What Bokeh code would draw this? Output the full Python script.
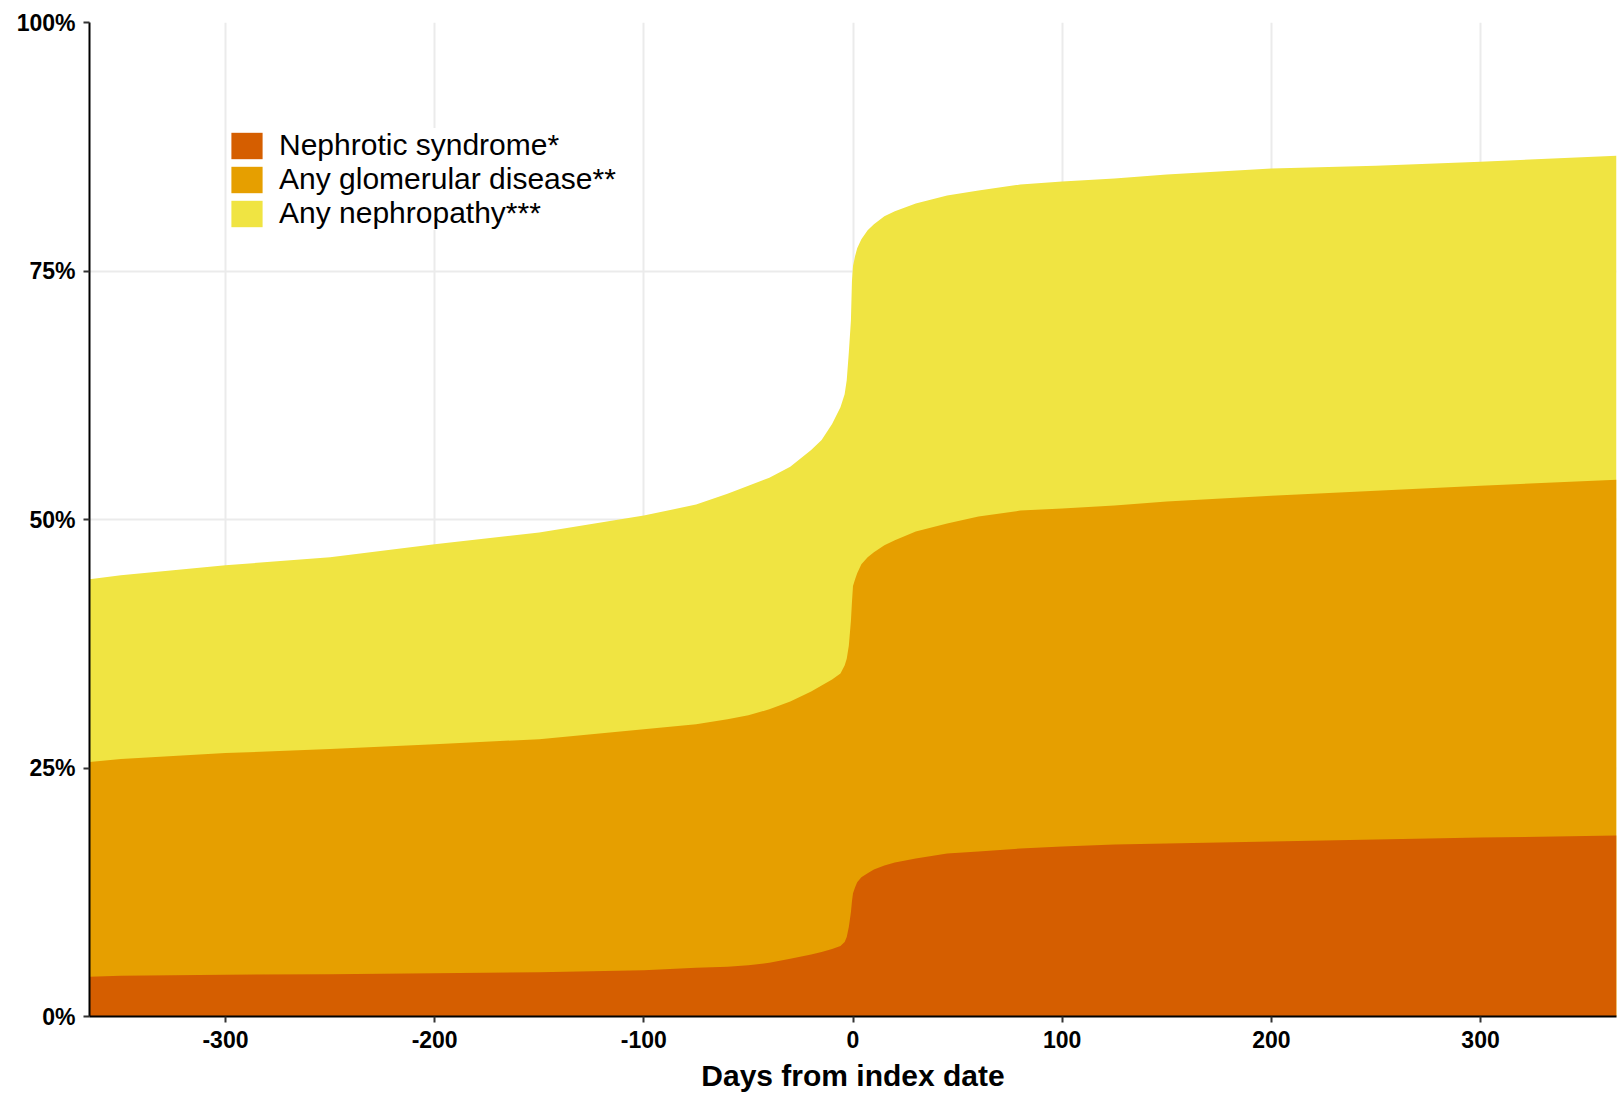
from bokeh.plotting import figure
from bokeh.models import Legend, LegendItem, FixedTicker
from bokeh.embed import file_html
from bokeh.resources import INLINE

# ---- data (cumulative percentage of patients) ----
days = [-365, -350, -300, -250, -200, -150, -100, -75, -60, -50, -40, -30, -20, -15, -10,
        -6, -4, -3, -2, -1, -0.5, 0, 1, 2, 4, 7, 10, 15, 20, 30, 45, 60, 80, 100, 125,
        150, 200, 250, 300, 365]

nephropathy = [44.0, 44.4, 45.4, 46.2, 47.5, 48.7, 50.4, 51.5, 52.6, 53.4, 54.2, 55.3, 57.0, 58.0, 59.6,
               61.3, 62.6, 64.0, 66.8, 70.0, 74.0, 75.5, 76.5, 77.3, 78.2, 79.1, 79.7, 80.5, 81.0, 81.8,
               82.6, 83.1, 83.7, 84.0, 84.3, 84.7, 85.3, 85.6, 86.0, 86.6]

glomerular = [25.6, 25.9, 26.5, 26.9, 27.4, 27.9, 28.9, 29.4, 29.9, 30.3, 30.9, 31.7, 32.7, 33.3, 33.9,
              34.5, 35.3, 36.0, 37.3, 39.8, 41.7, 43.3, 44.0, 44.6, 45.5, 46.2, 46.7, 47.4, 47.9, 48.8,
              49.6, 50.3, 50.9, 51.1, 51.4, 51.8, 52.4, 52.9, 53.4, 54.0]

nephrotic = [4.0, 4.1, 4.2, 4.25, 4.35, 4.45, 4.65, 4.9, 5.0, 5.15, 5.4, 5.8, 6.25, 6.5, 6.8,
             7.1, 7.5, 8.0, 9.0, 10.5, 11.6, 12.4, 13.0, 13.5, 14.0, 14.4, 14.8, 15.2, 15.5, 15.9,
             16.4, 16.6, 16.9, 17.1, 17.3, 17.4, 17.6, 17.8, 18.0, 18.2]

series_labels = ["Nephrotic syndrome*", "Any glomerular disease**", "Any nephropathy***"]
series_colors = ["#D55E00", "#E69F00", "#F0E442"]

x_ticks = [-300, -200, -100, 0, 100, 200, 300]
x_tick_labels = {-300: "-300", -200: "-200", -100: "-100", 0: "0", 100: "100", 200: "200", 300: "300"}
y_ticks = [0, 25, 50, 75, 100]
y_tick_labels = {0: "0%", 25: "25%", 50: "50%", 75: "75%", 100: "100%"}
x_title = "Days from index date"

FONT = "Liberation Sans"

p = figure(width=1619, height=1098, x_range=(-365, 365), y_range=(0, 100),
           output_backend="svg", toolbar_location=None,
           min_border_left=89, min_border_right=3, min_border_top=22, min_border_bottom=82)

r_y = p.varea(x=days, y1=0, y2=nephropathy, fill_color=series_colors[2], fill_alpha=1.0)
r_o = p.varea(x=days, y1=0, y2=glomerular, fill_color=series_colors[1], fill_alpha=1.0)
r_r = p.varea(x=days, y1=0, y2=nephrotic, fill_color=series_colors[0], fill_alpha=1.0)

p.outline_line_color = None
p.background_fill_color = "white"

# grid
p.xgrid.ticker = FixedTicker(ticks=x_ticks)
p.ygrid.ticker = FixedTicker(ticks=y_ticks)
for g in (p.xgrid, p.ygrid):
    g.grid_line_color = "#EBEBEB"
    g.grid_line_width = 2
    g.level = "underlay"

# axes
p.xaxis.ticker = FixedTicker(ticks=x_ticks)
p.xaxis.major_label_overrides = x_tick_labels
p.yaxis.ticker = FixedTicker(ticks=y_ticks)
p.yaxis.major_label_overrides = y_tick_labels
for ax in (p.xaxis, p.yaxis):
    ax.axis_line_color = "black"
    ax.axis_line_width = 2
    ax.major_tick_line_color = "#333333"
    ax.major_tick_line_width = 2
    ax.major_tick_out = 6
    ax.major_tick_in = 0
    ax.minor_tick_line_color = None
    ax.major_label_text_font = FONT
    ax.major_label_text_font_style = "bold"
    ax.major_label_text_font_size = "23px"
    ax.major_label_text_color = "black"
p.yaxis.major_label_standoff = 8
p.xaxis.major_label_standoff = 8

p.xaxis.axis_label = x_title
p.xaxis.axis_label_text_font = FONT
p.xaxis.axis_label_text_font_style = "bold"
p.xaxis.axis_label_text_font_size = "30px"
p.xaxis.axis_label_text_color = "black"
p.xaxis.axis_label_standoff = 8

legend = Legend(items=[LegendItem(label=series_labels[0], renderers=[r_r]),
                       LegendItem(label=series_labels[1], renderers=[r_o]),
                       LegendItem(label=series_labels[2], renderers=[r_y])],
                location=(138, 786), orientation="vertical")
legend.background_fill_color = "white"
legend.background_fill_alpha = 1.0
legend.border_line_color = None
legend.padding = 12
legend.margin = 0
legend.spacing = 0
legend.glyph_width = 39
legend.glyph_height = 33
legend.label_height = 33
legend.label_standoff = 13
legend.label_text_font = FONT
legend.label_text_font_size = "30px"
legend.label_text_color = "black"
legend.label_text_baseline = "middle"
p.add_layout(legend, "center")

open("out.html", "w").write(file_html(p, INLINE))
